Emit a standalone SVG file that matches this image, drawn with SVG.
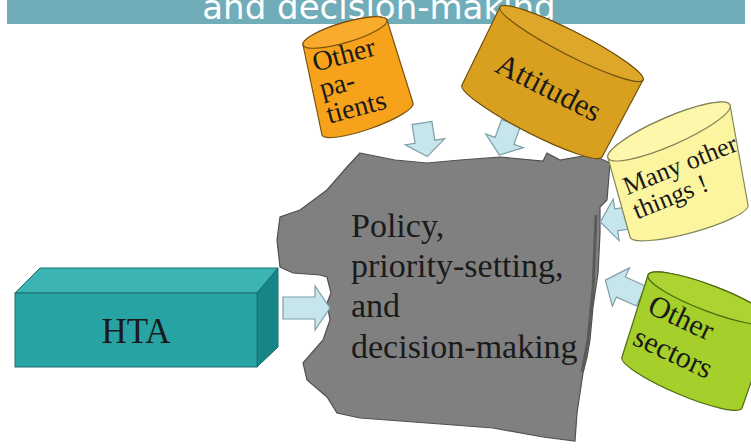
<svg xmlns="http://www.w3.org/2000/svg" width="751" height="448" viewBox="0 0 751 448">
<style>
.lbl{font-family:"Liberation Serif","Times New Roman",serif;fill:#1a1a1a}
.arrow{fill:#c6e5ec;stroke:#7d9fa7;stroke-width:1.2;stroke-linejoin:miter}
.cyl{stroke-width:1.2;stroke-linejoin:round}
</style>
<rect x="0" y="0" width="751" height="448" fill="#ffffff"/>
<g id="header">
<rect x="7" y="0" width="738" height="24" fill="#70adb9"/>
<text x="379" y="19" text-anchor="middle" font-family="DejaVu Sans, Verdana, sans-serif" font-size="34" fill="#ffffff">and decision-making</text>
</g>
<g id="policy">
<path d="M360,153 L395,160 L427,163 L460,160 L500,157 L543,161 L547,153 L560,160 L577,157 L593,155 L610,163 L607,200 L600,207 L600,233 L598,273 L593,307 L590,340 L587,357 L583,373 L580,393 L577,413 L575,441 L543,437 L493,428 L427,423 L360,418 L337,413 L327,397 L307,380 L303,363 L323,340 L330,320 L327,303 L331,293 L327,277 L320,275 L293,273 L280,267 L277,240 L280,217 L300,210 L327,190 L347,167 Z" fill="#808080" stroke="#505050" stroke-width="1.2"/>
<path d="M596,215 L593,290 L588,340 L582,372" fill="none" stroke="#5a5a5a" stroke-width="3"/>
<text class="lbl" font-size="34"><tspan x="351" y="237">Policy,</tspan><tspan x="351" y="277">priority-setting,</tspan><tspan x="351" y="317">and</tspan><tspan x="351" y="358">decision-making</tspan></text>
</g>
<g id="connectors">
<path class="arrow" transform="translate(283,308)" d="M0,-11 L32,-11 L32,-22 L47,0 L32,22 L32,11 L0,11 Z"/>
<path class="arrow" transform="translate(422,123) rotate(81)" d="M0,-10 L19,-10 L19,-20 L34,0 L19,20 L19,10 L0,10 Z"/>
<path class="arrow" transform="translate(511,123) rotate(110)" d="M0,-10 L19,-10 L19,-20 L34,0 L19,20 L19,10 L0,10 Z"/>
<path class="arrow" transform="translate(636,217) rotate(172)" d="M0,-11 L20,-11 L20,-21 L36,0 L20,21 L20,11 L0,11 Z"/>
<path class="arrow" transform="translate(641,296) rotate(204)" d="M0,-11 L22,-11 L22,-21 L39,0 L22,21 L22,11 L0,11 Z"/>
</g>
<g id="other-patients">
<path class="cyl" fill="#f7a21b" stroke="#7a5210" d="M303,45 L322,135 A48.2,10 -19.4 0 0 413,103 L387,20 A43.8,10 -16.6 0 0 303,45 Z"/>
<ellipse class="cyl" cx="345" cy="32.5" rx="43.8" ry="10" transform="rotate(-16.6 345 32.5)" fill="#f9ab2e" stroke="#7a5210"/>
<text class="lbl" font-size="28" transform="translate(345.5,33.6) rotate(-15)"><tspan x="-39" y="29">Other</tspan><tspan x="-39" y="56">pa-</tspan><tspan x="-39" y="83">tients</tspan></text>
</g>
<g id="attitudes">
<path class="cyl" fill="#d9a01f" stroke="#6e500e" d="M500,7 L462,85 A78.7,12 27.2 0 0 602,157 L643,80 A80.3,12 27 0 0 500,7 Z"/>
<ellipse class="cyl" cx="571.5" cy="43.5" rx="80.3" ry="12" transform="rotate(27 571.5 43.5)" fill="#dea72a" stroke="#6e500e"/>
<text class="lbl" font-size="31" text-anchor="middle" transform="translate(571.3,43.3) rotate(27)" x="0" y="60">Attitudes</text>
</g>
<g id="many-other-things">
<path class="cyl" fill="#fbf5a0" stroke="#85855a" d="M608,158 L630,237 A61.1,12 -15.2 0 0 748,205 L730,105 A66.5,14 -23.5 0 0 608,158 Z"/>
<ellipse class="cyl" cx="669" cy="131.5" rx="66.5" ry="14" transform="rotate(-23.5 669 131.5)" fill="#fcf7ab" stroke="#85855a"/>
<text class="lbl" font-size="26" transform="translate(680,187) rotate(-22)"><tspan x="-52" y="-12">Many other</tspan><tspan x="-52" y="14">things !</tspan></text>
</g>
<g id="other-sectors">
<path class="cyl" fill="#a5cf2a" stroke="#4f6b10" d="M648,275 L622,357 A65,12 23 0 0 742,408 L772,322 A66.3,13 20.8 0 0 648,275 Z"/>
<ellipse class="cyl" cx="710" cy="298.5" rx="66.3" ry="13" transform="rotate(20.8 710 298.5)" fill="#abd432" stroke="#4f6b10"/>
<text class="lbl" font-size="30" transform="translate(675,340) rotate(25)"><tspan x="-38" y="-13">Other</tspan><tspan x="-38" y="22">sectors</tspan></text>
</g>
<g id="hta">
<polygon points="15,293 40,268 278,268 257,293" fill="#3cb4b4" stroke="#1e6e6e" stroke-width="1"/>
<polygon points="257,293 278,268 278,347 257,367" fill="#168585" stroke="#1e6e6e" stroke-width="1"/>
<rect x="15" y="293" width="242" height="74" fill="#27a3a3" stroke="#1e6e6e" stroke-width="1"/>
<text class="lbl" font-size="35" text-anchor="middle" x="136" y="343">HTA</text>
</g>
</svg>
